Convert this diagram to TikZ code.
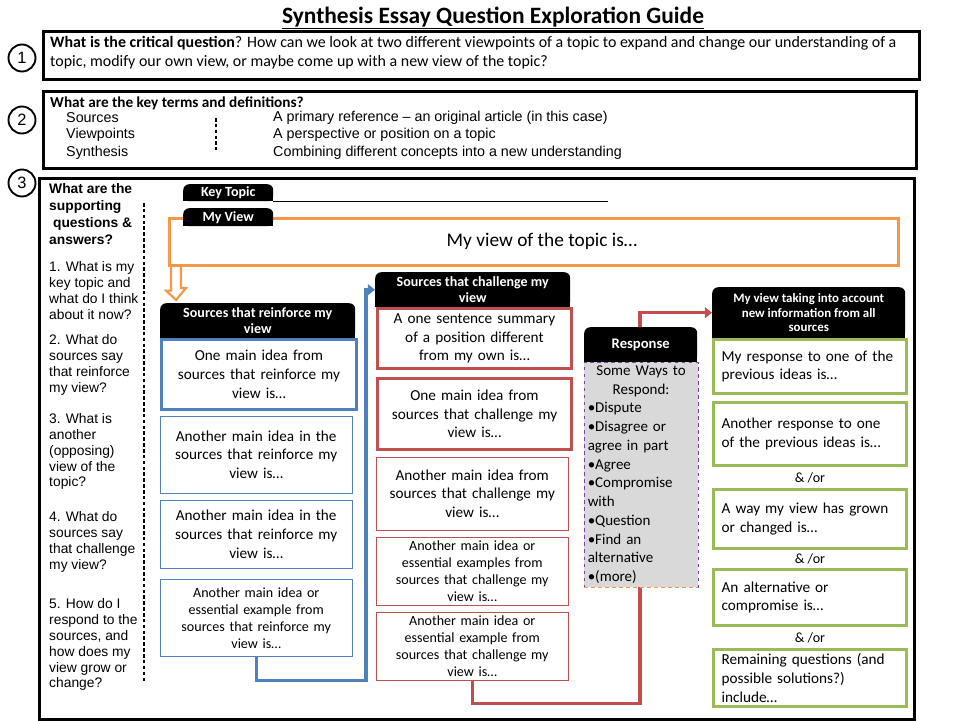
\documentclass[tikz,border=0pt]{standalone}
\usepackage{fontspec}
\setmainfont{Carlito}
\newfontfamily\arialfont{Liberation Sans}
\usetikzlibrary{arrows.meta,calc,backgrounds}

\definecolor{ppblue}{HTML}{4F81BD}
\definecolor{ppred}{HTML}{C0504D}
\definecolor{ppgreen}{HTML}{9BBB59}
\definecolor{pporange}{HTML}{F79646}
\definecolor{ppgray}{HTML}{D9D9D9}
\definecolor{respline}{HTML}{7F3F9F}
\def\pxu{0.03cm}

\begin{document}
\begin{tikzpicture}[
  x=0.03cm, y=-0.03cm,
  wh/.style 2 args={minimum width=#1*\pxu, minimum height=#2*\pxu, anchor=north west},
  bigbox/.style={draw, line width=2.6pt},
  numcirc/.style={circle, draw, line width=1.6pt, fill=white, minimum size=27*\pxu, inner sep=0pt, font=\arialfont\fontsize{14}{14}\selectfont},
  hdr/.style={fill=black, text=white, rounded corners=5pt, align=center, inner sep=1pt, font=\bfseries\fontsize{12}{13.5}\selectfont},
  idea/.style={draw, fill=white, align=center, text width=5.6cm, inner sep=1pt, font=\fontsize{13}{16}\selectfont},
  smallidea/.style={font=\fontsize{12}{14.5}\selectfont},
  termtxt/.style={anchor=west, inner sep=0pt, font=\arialfont\fontsize{12.2}{13}\selectfont},
  question/.style={anchor=north west, align=left, inner sep=0pt, font=\arialfont\fontsize{11.8}{13.6}\selectfont},
  conn/.style={line width=2.6pt, -{Triangle[length=6pt, width=9pt]}},
  andor/.style={font=\fontsize{12}{13}\selectfont}
]
  \useasboundingbox (0,0) rectangle (960,720);

  % Title
  \node[font=\bfseries\fontsize{20}{22}\selectfont] (title) at (493,18) {\underline{Synthesis Essay Question Exploration Guide}};

  % 1: critical question
  \node[bigbox, wh={876}{48}] (crit) at (42,30) {};
  \node[numcirc] (n1) at (22,58) {1};
  \node[anchor=north west, align=left, inner sep=0pt, font=\fontsize{13.6}{16}\selectfont] (crittext) at (50,36) {\textbf{What is the critical question}? How can we look at two different viewpoints of a topic to expand and change our understanding of a\\topic, modify our own view, or maybe come up with a new view of the topic?};

  % 2: key terms
  \node[bigbox, wh={873}{77}] (terms) at (42,90) {};
  \node[numcirc] (n2) at (22,120) {2};
  \node[anchor=west, inner sep=0pt, font=\bfseries\fontsize{13}{14}\selectfont] (termshd) at (50,103) {What are the key terms and definitions?};
  \foreach \term/\defn/\y [count=\i] in {Sources/{A primary reference – an original article (in this case)}/118,
      Viewpoints/{A perspective or position on a topic}/135,
      Synthesis/{Combining different concepts into a new understanding}/153} {
    \node[termtxt] (term\i) at (66,\y) {\term};
    \node[termtxt] (defn\i) at (273,\y) {\defn};
  }
  \draw[line width=1.2pt, dash pattern=on 3pt off 2pt] (216,118) -- (216,150);

  % 3: exploration
  \node[bigbox, wh={875}{541}] (explore) at (38,177) {};
  \node[numcirc] (n3) at (22,183) {3};

  \node[question, font=\arialfont\bfseries\fontsize{11.8}{14.5}\selectfont] (supq) at (49,183) {What are the\\supporting\\~questions \&\\answers?};
  \node[question] (q1) at (49,261) {1. What is my\\key topic and\\what  do I think\\about it now?};
  \node[question] (q2) at (49,334) {2. What do\\sources say\\that reinforce\\my view?};
  \node[question] (q3) at (49,413) {3. What is\\another\\(opposing)\\view of the\\topic?};
  \node[question] (q4) at (49,511) {4. What do\\sources say\\that challenge\\my view?};
  \node[question] (q5) at (49,598) {5. How do I\\respond to the\\sources, and\\how does my\\view grow or\\change?};
  \draw[line width=1.2pt, dash pattern=on 3pt off 2pt] (144,203) -- (144,682);

  % Key topic and my view
  \node[hdr, wh={90}{17}] (keyhdr) at (183,184) {Key Topic};
  \draw[line width=1.3pt] (keyhdr.south east) -- ++(335,0);
  \node[draw=pporange, line width=2.2pt, wh={729}{47}, font=\fontsize{16.5}{18}\selectfont] (myview) at (168,217) {\hspace{14pt}My view of the topic is…};
  \node[hdr, wh={90}{18}] (viewhdr) at (183,208) {My View};

  % Sources that reinforce
  \node[hdr, wh={195}{35}] (reinhdr) at (160,303) {Sources that reinforce my\\view};
  \node[idea, draw=ppblue, line width=2.5pt, wh={195}{70}] (rein1) at (160,338) {One main idea from\\sources that reinforce my\\view is…};
  \node[idea, draw=ppblue, wh={192}{77}] (rein2) at (160,416) {Another  main idea in the\\sources that reinforce my\\view is…};
  \node[idea, draw=ppblue, wh={192}{68}] (rein3) at (160,500) {Another  main idea in the\\sources that reinforce my\\view is…};
  \node[idea, smallidea, draw=ppblue, wh={192}{77}] (rein4) at (160,579) {Another main idea or\\essential example from\\sources that reinforce my\\view is…};
  \draw[pporange, line width=1.8pt] ($(myview.south west)+(3,0)$) -- ++(0,24) -- ++(-5,0) -- ($(reinhdr.north west)+(16,-3)$) -- ++(10,-12) -- ++(-5,0) -- ++(0,-24);

  % Sources that challenge
  \node[hdr, wh={195}{35}] (chalhdr) at (375,272) {Sources that challenge my\\view};
  \node[idea, draw=ppred, line width=2.5pt, wh={194}{60}] (chal1) at (376,307) {A one sentence summary\\of a position different\\from my own is…};
  \node[idea, draw=ppred, line width=2.5pt, wh={194}{71}] (chal2) at (376,377) {One main idea from\\sources that challenge my\\view is…};
  \node[idea, draw=ppred, wh={192}{73}] (chal3) at (376,457) {Another  main idea from\\sources that challenge my\\view is…};
  \node[idea, smallidea, draw=ppred, wh={192}{68}] (chal4) at (376,537) {Another main idea or\\essential examples from\\sources that challenge my\\view is…};
  \node[idea, smallidea, draw=ppred, wh={192}{68}] (chal5) at (376,612) {Another main idea or\\essential example from\\sources that challenge my\\view is…};

  % Response
  \node[hdr, wh={113}{35}, font=\bfseries\fontsize{12.5}{13}\selectfont] (resphdr) at (584,327) {Response};
  \node[draw=respline, dashed, fill=ppgray, wh={113}{220}, text width=3.2cm, align=left, inner sep=3pt, font=\fontsize{12.8}{16}\selectfont] (resp) at (584,362) {{\centering Some Ways to\\Respond:\par}\raggedright •Dispute\\•Disagree or\\agree in part\\•Agree\\•Compromise\\with\\•Question\\•Find an\\alternative\\•(more)};
  \draw[pporange, dashed, line width=1.2pt] (resp.south west) -- (resp.south east);

  % My view taking into account
  \node[hdr, wh={193}{51}, font=\bfseries\fontsize{11}{12.5}\selectfont] (newhdr) at (712,287) {My view taking into account\\new information from all\\sources};
  \node[idea, draw=ppgreen, line width=2.5pt, wh={193}{54}, align=left, text width=5.3cm] (new1) at (712,338) {My response to one of the\\previous ideas is…};
  \node[idea, draw=ppgreen, line width=2.5pt, wh={193}{63}, align=left, text width=5.3cm] (new2) at (712,401) {Another  response to one\\of the previous ideas is…};
  \node[idea, draw=ppgreen, line width=2.5pt, wh={193}{59}, align=left, text width=5.3cm] (new3) at (712,488) {A way my view has grown\\or changed is…};
  \node[idea, draw=ppgreen, line width=2.5pt, wh={193}{56}, align=left, text width=5.3cm] (new4) at (712,568) {An alternative  or\\compromise is…};
  \node[idea, draw=ppgreen, line width=2.5pt, wh={193}{57}, align=left, text width=5.3cm] (new5) at (712,648) {Remaining questions  (and\\possible solutions?)\\include…};
  \node[andor] (andor1) at ($(new2.south)!0.5!(new3.north)$) {\& /or};
  \node[andor] (andor2) at ($(new3.south)!0.5!(new4.north)$) {\& /or};
  \node[andor] (andor3) at ($(new4.south)!0.5!(new5.north)$) {\& /or};

  % Square bottoms of the tabs, and the flow lines behind the boxes
  \begin{scope}[on background layer]
    \foreach \h in {keyhdr,viewhdr,reinhdr,chalhdr,resphdr,newhdr}
      \fill[black] (\h.west) rectangle (\h.south east);
    \draw[conn, ppblue] (rein4.south) -- ++(0,24) -| ($(chalhdr.west)+(-9,0)$) -- (chalhdr.west);
    \draw[conn, ppred] (chal5.south) -- ++(0,23) -| ($(newhdr.west)+(-72,0)$) -- (newhdr.west);
  \end{scope}
\end{tikzpicture}
\end{document}
